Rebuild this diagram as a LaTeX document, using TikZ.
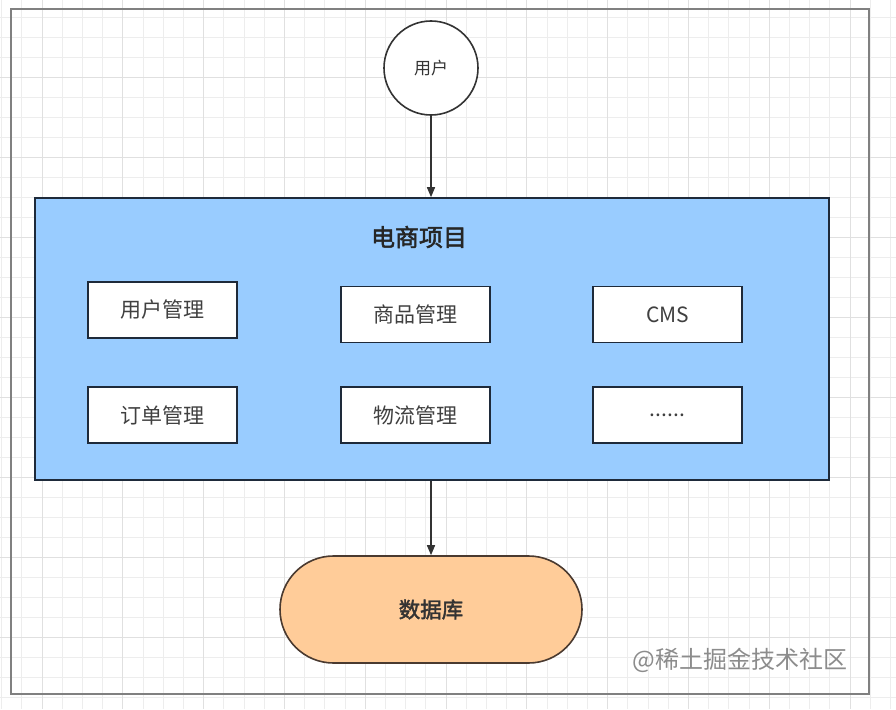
\documentclass[tikz,border=0pt]{standalone}
\usepackage{fontspec}
\setmainfont{Noto Sans CJK SC}
\newfontfamily\cjkbold{Noto Sans CJK SC}[FakeBold=2]
\usetikzlibrary{arrows.meta,shapes.misc}
\definecolor{gridc}{HTML}{EDEDED}
\definecolor{gridmaj}{HTML}{E0E0E0}
\definecolor{bluefill}{HTML}{99CCFF}
\definecolor{orangefill}{HTML}{FFCC99}
\definecolor{boxline}{HTML}{1E2A3A}
\definecolor{pillline}{HTML}{4A3A30}
\tikzset{
  modbox/.style={draw=boxline,line width=1.6pt,fill=white,minimum width=149pt,minimum height=56pt,inner sep=0pt,font=\fontsize{21}{24}\selectfont,text=black!75},
  conn/.style={draw=black!80,line width=1.5pt,-{Triangle[length=10pt,width=8pt]}},
}
\begin{document}
\begin{tikzpicture}[x=1pt,y=-1pt]
\useasboundingbox (0,0) rectangle (896,709);
\fill[white] (0,0) rectangle (896,709);
% grid
\foreach \i in {0,...,44} {
  \pgfmathsetmacro\xx{1.6+20.2*\i}
  \draw[gridc,line width=0.8pt] (\xx,0) -- (\xx,709);
}
\foreach \j in {0,...,35} {
  \pgfmathsetmacro\yy{-3+20*\j}
  \draw[gridc,line width=0.8pt] (0,\yy) -- (896,\yy);
}
\foreach \i in {0,...,11} {
  \pgfmathsetmacro\xx{42+80.8*\i}
  \draw[gridmaj,line width=1pt] (\xx,0) -- (\xx,709);
}
\foreach \j in {0,...,9} {
  \pgfmathsetmacro\yy{-3+80*\j}
  \draw[gridmaj,line width=1pt] (0,\yy) -- (896,\yy);
}
% outer border
\draw[black!50,line width=2pt] (11,9) rectangle (869,694);
% user circle
\node[circle,draw=black!80,line width=1.6pt,fill=white,minimum size=94pt,inner sep=0pt,font=\fontsize{17}{19}\selectfont,text=black!80] (user) at (431,68) {用户};
% main box
\node[draw=boxline,line width=1.6pt,fill=bluefill,minimum width=794pt,minimum height=282pt,inner sep=0pt] (proj) at (432,339) {};
\node[font=\cjkbold\fontsize{24}{26}\selectfont,text=black!85] (title) at (419,237) {电商项目};
% modules
\node[modbox] (m1) at (162.5,310) {用户管理};
\node[modbox] (m2) at (415.5,314.5) {商品管理};
\node[modbox] (m3) at (667.5,314.5) {CMS};
\node[modbox] (m4) at (162.5,415) {订单管理};
\node[modbox] (m5) at (415.5,415) {物流管理};
\node[modbox] (m6) at (667.5,415) {......};
% database
\node[rounded rectangle,draw=pillline,line width=1.6pt,fill=orangefill,minimum width=302pt,minimum height=107pt,inner sep=0pt,font=\cjkbold\fontsize{21.5}{24}\selectfont,text=black!80] (db) at (431,609.5) {数据库};
% connectors
\draw[conn] (user.south) -- (proj.north -| user.south);
\draw[conn] (proj.south -| db.north) -- (db.north);
% watermark
\node[font=\fontsize{24}{26}\selectfont,text=black!45,anchor=east] (wm) at (851,660) {@稀土掘金技术社区};
\end{tikzpicture}
\end{document}
